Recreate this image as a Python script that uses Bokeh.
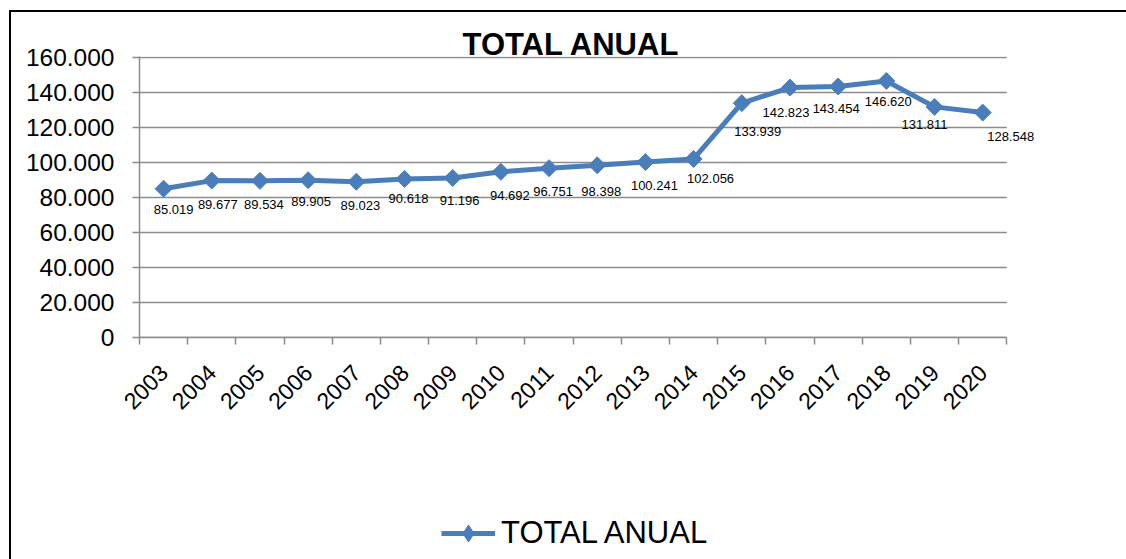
from bokeh.plotting import figure
from bokeh.layouts import column
from bokeh.models import (Range1d, FixedTicker, SingleIntervalTicker, CustomJSTickFormatter,
                          Legend, LegendItem, ColumnDataSource, LabelSet)
from bokeh.core.properties import value
from bokeh.embed import file_html
from bokeh.resources import INLINE
import math

# Annual totals, 2003-2020
years = ["2003", "2004", "2005", "2006", "2007", "2008", "2009", "2010", "2011",
         "2012", "2013", "2014", "2015", "2016", "2017", "2018", "2019", "2020"]
totals = [85019, 89677, 89534, 89905, 89023, 90618, 91196, 94692, 96751,
          98398, 100241, 102056, 133939, 142823, 143454, 146620, 131811, 128548]
y_ticks = [0, 20000, 40000, 60000, 80000, 100000, 120000, 140000, 160000]
series_name = "TOTAL ANUAL"

# pixel nudges for the value labels (relative to each point)
label_dx = [10, 6, 4, 3, 4, 4, 7, 9, 4, 4, 9, 17, 16, -4, -2, 2, -10, 28]
label_dy = [25, 28, 28, 26, 28, 24, 27, 28, 28, 31, 28, 24, 33, 29, 26, 25, 22, 28]

BLUE = "#4A7EBB"
GRID = "#8C8C8C"
FONT = "Liberation Sans"


def dotted(v):
    return f"{v:,}".replace(",", ".")


n = len(years)
xs = [i + 0.5 for i in range(n)]
src = ColumnDataSource(dict(
    x=xs, y=totals, txt=[dotted(v) for v in totals],
    dx=label_dx, dy=[-d for d in label_dy],
))
grid_src = ColumnDataSource(dict(x0=[0] * len(y_ticks), x1=[n] * len(y_ticks), y=y_ticks))

# chart sheet frame: black rule along the top and left edges
top_css = {"background": ("linear-gradient(#000, #000) 9px 10px / 2px 100% no-repeat, "
                          "linear-gradient(#000, #000) 9px 10px / 100% 2px no-repeat, #fff")}
left_css = {"background": "linear-gradient(#000, #000) 9px 0px / 2px 100% no-repeat, #fff"}

p = figure(width=1126, height=480, output_backend="svg", toolbar_location=None,
           x_range=Range1d(0, n + 0.7), y_range=Range1d(0, 160600),
           min_border_left=139, min_border_right=86,
           min_border_top=56, min_border_bottom=143,
           styles=top_css)
p.outline_line_color = None
p.background_fill_color = None
p.border_fill_color = None

p.title.text = series_name
p.title.align = "left"
p.title.offset = 323
p.title.standoff = -10
p.title.text_font = FONT
p.title.text_font_size = "31px"
p.title.text_font_style = "bold"
p.title.text_color = "black"

# horizontal gridlines spanning the category area only
p.xgrid.grid_line_color = None
p.ygrid.grid_line_color = None
p.segment(x0="x0", x1="x1", y0="y", y1="y", source=grid_src,
          line_color=GRID, line_width=1.5)

# x axis: labels at category centres, tick marks between categories
p.xaxis.bounds = (0, n)
p.xaxis.ticker = FixedTicker(ticks=xs, minor_ticks=list(range(n + 1)))
p.xaxis.formatter = CustomJSTickFormatter(args=dict(years=years),
                                          code="return years[Math.floor(tick)] || '';")
p.xaxis.major_tick_out = 0
p.xaxis.major_tick_in = 0
p.xaxis.minor_tick_out = 7
p.xaxis.minor_tick_in = 0
p.xaxis.minor_tick_line_color = GRID
p.xaxis.minor_tick_line_width = 1.5
p.xaxis.axis_line_color = GRID
p.xaxis.axis_line_width = 1.5
p.xaxis.major_label_orientation = math.pi / 4
p.xaxis.major_label_text_font = FONT
p.xaxis.major_label_text_font_size = "23px"
p.xaxis.major_label_text_color = "black"
p.xaxis.major_label_standoff = 24

# y axis
p.yaxis.ticker = SingleIntervalTicker(interval=20000, num_minor_ticks=0)
p.yaxis.formatter = CustomJSTickFormatter(
    code="return tick.toFixed(0).replace(/\\B(?=(\\d{3})+(?!\\d))/g, '.');")
p.yaxis.major_tick_out = 7
p.yaxis.major_tick_in = 0
p.yaxis.minor_tick_line_color = None
p.yaxis.major_tick_line_color = GRID
p.yaxis.major_tick_line_width = 1.5
p.yaxis.axis_line_color = GRID
p.yaxis.axis_line_width = 1.5
p.yaxis.major_label_text_font = FONT
p.yaxis.major_label_text_font_size = "24.5px"
p.yaxis.major_label_text_color = "black"
p.yaxis.major_label_standoff = 18

p.line("x", "y", source=src, line_color=BLUE, line_width=5)
p.scatter("x", "y", source=src, marker="square", angle=math.pi / 4,
          size=12, fill_color=BLUE, line_color=BLUE)

labels = LabelSet(x="x", y="y", text="txt", source=src, x_offset="dx", y_offset="dy",
                  text_align="center", text_baseline="alphabetic",
                  text_font=value(FONT), text_font_size=value("13px"),
                  text_color="black")
p.add_layout(labels)

# legend strip under the chart; its series copy lies outside the strip's view
leg = figure(width=1126, height=79, output_backend="svg", toolbar_location=None,
             x_range=Range1d(0, 1), y_range=Range1d(0, 1),
             min_border=0, styles=left_css)
leg.axis.visible = False
leg.grid.visible = False
leg.outline_line_color = None
leg.background_fill_color = None
leg.border_fill_color = None
key_line = leg.line("x", "y", source=src, line_color=BLUE, line_width=5)
key_pts = leg.scatter("x", "y", source=src, marker="diamond",
                      size=18, fill_color=BLUE, line_color=BLUE)
legend = Legend(items=[LegendItem(label=series_name, renderers=[key_line, key_pts])],
                location=(302, 5), orientation="horizontal",
                glyph_width=54, glyph_height=42, label_height=42,
                label_text_font=FONT, label_text_font_size="31px",
                label_text_color="black", label_standoff=6,
                padding=0, margin=0, border_line_color=None,
                background_fill_alpha=0)
leg.add_layout(legend)

page = column(p, leg, spacing=0)
open("out.html", "w").write(file_html(page, INLINE))
